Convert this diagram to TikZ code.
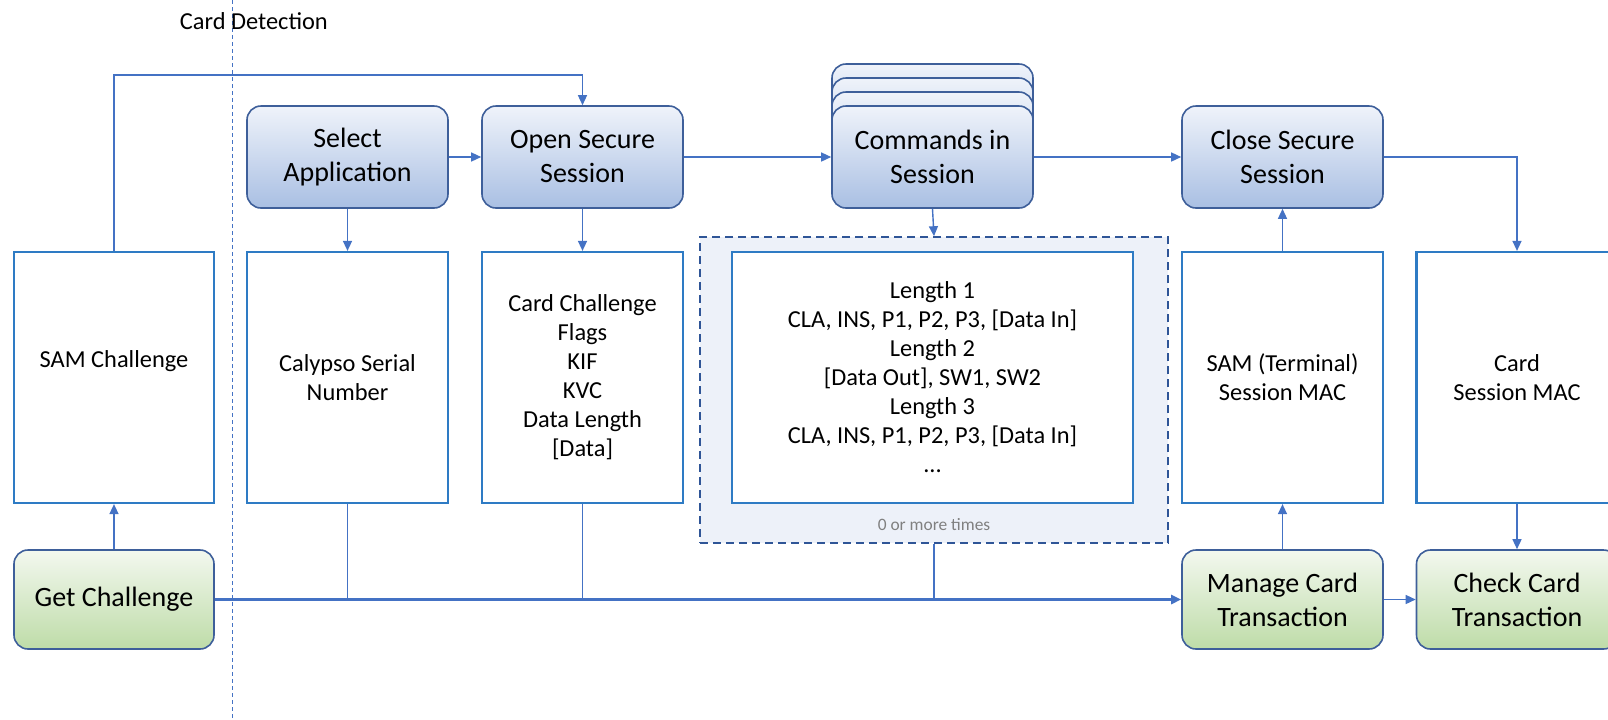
\documentclass[tikz,border=0pt]{standalone}
\usepackage{fontspec}
\setmainfont{Carlito}
\usetikzlibrary{arrows.meta}
\definecolor{linkblue}{HTML}{4472C4}
\definecolor{edgeblue}{HTML}{3E5F9A}
\definecolor{boxblue}{HTML}{2E7BC4}
\definecolor{topblue}{HTML}{EFF3FA}
\definecolor{botblue}{HTML}{A9BFE3}
\definecolor{topgreen}{HTML}{F3F8EF}
\definecolor{botgreen}{HTML}{BEDCA8}
\definecolor{loopfill}{HTML}{EDF1F9}
\definecolor{loopedge}{HTML}{2F5597}
\def\bigtxt{\fontsize{14}{17}\selectfont}
\def\smalltxt{\fontsize{12.2}{14.5}\selectfont}
\def\tinytxt{\fontsize{8.7}{10}\selectfont}
\tikzset{
  stepbox/.style={draw=edgeblue, line width=0.8pt, rounded corners=7pt,
    top color=topblue, bottom color=botblue, minimum width=100.5pt,
    minimum height=51pt, align=center, font=\bigtxt},
  actbox/.style={stepbox, top color=topgreen, bottom color=botgreen,
    minimum height=49.5pt},
  databox/.style={draw=boxblue, line width=1.1pt, fill=white,
    minimum width=100.5pt, minimum height=125.5pt, align=center, font=\smalltxt},
  link/.style={draw=linkblue, line width=0.7pt, -{Triangle[length=5pt,width=4.5pt]}},
  wire/.style={draw=linkblue, line width=0.7pt}
}

\begin{document}
\begin{tikzpicture}[x=0.5pt,y=-0.5pt]
  \useasboundingbox (0,0) rectangle (1608,719);

  % card detection marker
  \draw [linkblue, line width=0.4pt, dash pattern=on 2pt off 1.5pt] (232,0) -- (232,719);
  \node [anchor=west, font=\smalltxt, inner sep=0pt] (detect) at (179.5,21) {Card Detection};

  % top row
  \node [stepbox] (sel) at (347.5,157) {Select\\Application};
  \node [stepbox] (open) at (582.5,157) {Open Secure\\Session};
  \foreach \dy in {42,28,14}
    \node [stepbox] at (932.5,157-\dy) {};
  \node [stepbox] (cmd) at (932.5,157) {Commands in\\Session};
  \node [stepbox] (close) at (1282.5,157) {Close Secure\\Session};

  % data row
  \node [databox, minimum width=100pt] (sam) at (114,377.5) {SAM Challenge\\\strut};
  \node [databox] (csn) at (347.5,377.5) {Calypso Serial\\Number};
  \node [databox] (cc) at (582.5,377.5) {Card Challenge\\Flags\\KIF\\KVC\\Data Length\\{[Data]}};
  \node [draw=loopedge, dash pattern=on 4pt off 2.5pt, line width=0.8pt, fill=loopfill,
    minimum width=234pt, minimum height=153pt] (loop) at (934,390) {};
  \node [databox, minimum width=200.5pt] (len) at (932.5,377.5)
    {Length 1\\CLA, INS, P1, P2, P3, [Data In]\\Length 2\\{[Data Out]}, SW1, SW2\\Length 3\\CLA, INS, P1, P2, P3, [Data In]\\...};
  \node [font=\tinytxt, text=gray] (times) at (934,525) {0 or more times};
  \node [databox] (smac) at (1282.5,377.5) {SAM (Terminal)\\Session MAC};
  \node [databox] (cmac) at (1517,377.5) {Card\\Session MAC};

  % bottom row
  \node [actbox, minimum width=100pt] (getc) at (114,599.5) {Get Challenge};
  \node [actbox] (manage) at (1282.5,599.5) {Manage Card\\Transaction};
  \node [actbox] (check) at (1517,599.5) {Check Card\\Transaction};

  % connectors
  \coordinate (top) at (0,75);
  \draw [link] (sam.north) |- (top -| open.north) -- (open.north);
  \draw [link] (sel) -- (open);
  \draw [link] (open) -- (cmd);
  \draw [link] (cmd) -- (close);
  \draw [link] (close.east) -| (cmac.north);
  \draw [link] (sel) -- (csn);
  \draw [link] (open) -- (cc);
  \draw [link] (cmd.south) -- (loop.north);
  \draw [link] (getc) -- (sam);
  \draw [wire] (csn.south) -- (csn.south |- getc.east);
  \draw [wire] (cc.south) -- (cc.south |- getc.east);
  \draw [wire] (loop.south) -- (loop.south |- getc.east);
  \draw [link, line width=1.5pt] (getc) -- (manage);
  \draw [link] (manage) -- (smac);
  \draw [link] (smac) -- (close);
  \draw [link] (manage) -- (check);
  \draw [link] (cmac) -- (check);
\end{tikzpicture}
\end{document}
